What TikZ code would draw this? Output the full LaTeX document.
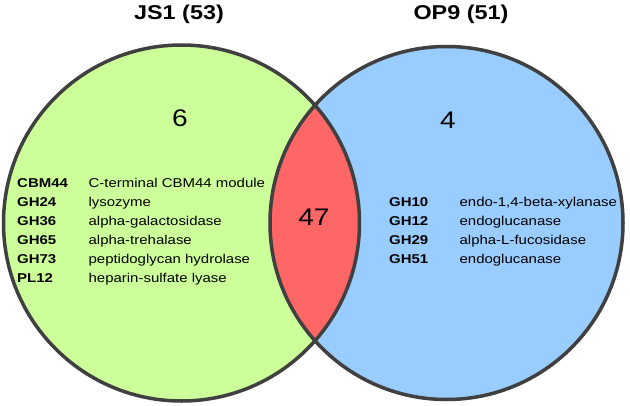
\documentclass[tikz,border=0pt]{standalone}
\usepackage{fontspec}
\setmainfont[FakeStretch=1.17]{Liberation Sans}
\usetikzlibrary{positioning}

\definecolor{jsgreen}{HTML}{CCFF99}
\definecolor{opblue}{HTML}{99CCFF}
\definecolor{sharedred}{HTML}{FF6666}
\definecolor{rimgray}{HTML}{404040}

\begin{document}
\begin{tikzpicture}[
    x=1pt, y=1pt,
    node distance=6.9pt,
    setdisk/.style={circle, minimum size=356pt, inner sep=0pt},
    rim/.style={draw=rimgray, line width=3.5pt},
    settitle/.style={font=\fontsize{20}{22}\selectfont\bfseries},
    tally/.style={font=\fontsize{24}{26}\selectfont},
    cazy/.style={font=\fontsize{12.8}{14}\selectfont\bfseries, text width=70pt, align=left, inner sep=0pt, text height=9pt, text depth=2.7pt},
    enzyme/.style={font=\fontsize{12.8}{14}\selectfont, inner sep=0pt, text height=9pt, text depth=2.7pt}
]
    \useasboundingbox (0,0) rectangle (630,-405);

    % Sets
    \node[setdisk, fill=jsgreen] (js1) at (181.5,-223) {};
    \node[setdisk, fill=opblue] (op9) at (446.5,-223) {};
    \begin{scope}
        \clip (js1.center) circle (178pt);
        \fill[sharedred] (op9.center) circle (176.5pt);
    \end{scope}
    \draw[rim] (js1.center) circle (178pt);
    \draw[rim] (op9.center) circle (176.5pt);

    % Titles and counts
    \node[settitle] (js1title) at (179,-14) {JS1 (53)};
    \node[settitle] (op9title) at (461,-14) {OP9 (51)};
    \node[tally] (onlyjs1) at (180,-118) {6};
    \node[tally] (onlyop9) at (448,-120) {4};
    \node[tally] (shared) at (314,-217) {47};

    % JS1 families
    \node[cazy, anchor=west] (cbm44) at (17,-184) {CBM44};
    \node[cazy, below=of cbm44] (gh24) {GH24};
    \node[cazy, below=of gh24] (gh36) {GH36};
    \node[cazy, below=of gh36] (gh65) {GH65};
    \node[cazy, below=of gh65] (gh73) {GH73};
    \node[cazy, below=of gh73] (pl12) {PL12};
    \node[enzyme, right=1pt of cbm44] {C-terminal CBM44 module};
    \node[enzyme, right=1pt of gh24] {lysozyme};
    \node[enzyme, right=1pt of gh36] {alpha-galactosidase};
    \node[enzyme, right=1pt of gh65] {alpha-trehalase};
    \node[enzyme, right=1pt of gh73] {peptidoglycan hydrolase};
    \node[enzyme, right=1pt of pl12] {heparin-sulfate lyase};

    % OP9 families
    \node[cazy, anchor=west] (gh10) at (389,-203) {GH10};
    \node[cazy, below=of gh10] (gh12) {GH12};
    \node[cazy, below=of gh12] (gh29) {GH29};
    \node[cazy, below=of gh29] (gh51) {GH51};
    \node[enzyme, right=0pt of gh10] {endo-1,4-beta-xylanase};
    \node[enzyme, right=0pt of gh12] {endoglucanase};
    \node[enzyme, right=0pt of gh29] {alpha-L-fucosidase};
    \node[enzyme, right=0pt of gh51] {endoglucanase};
\end{tikzpicture}
\end{document}
